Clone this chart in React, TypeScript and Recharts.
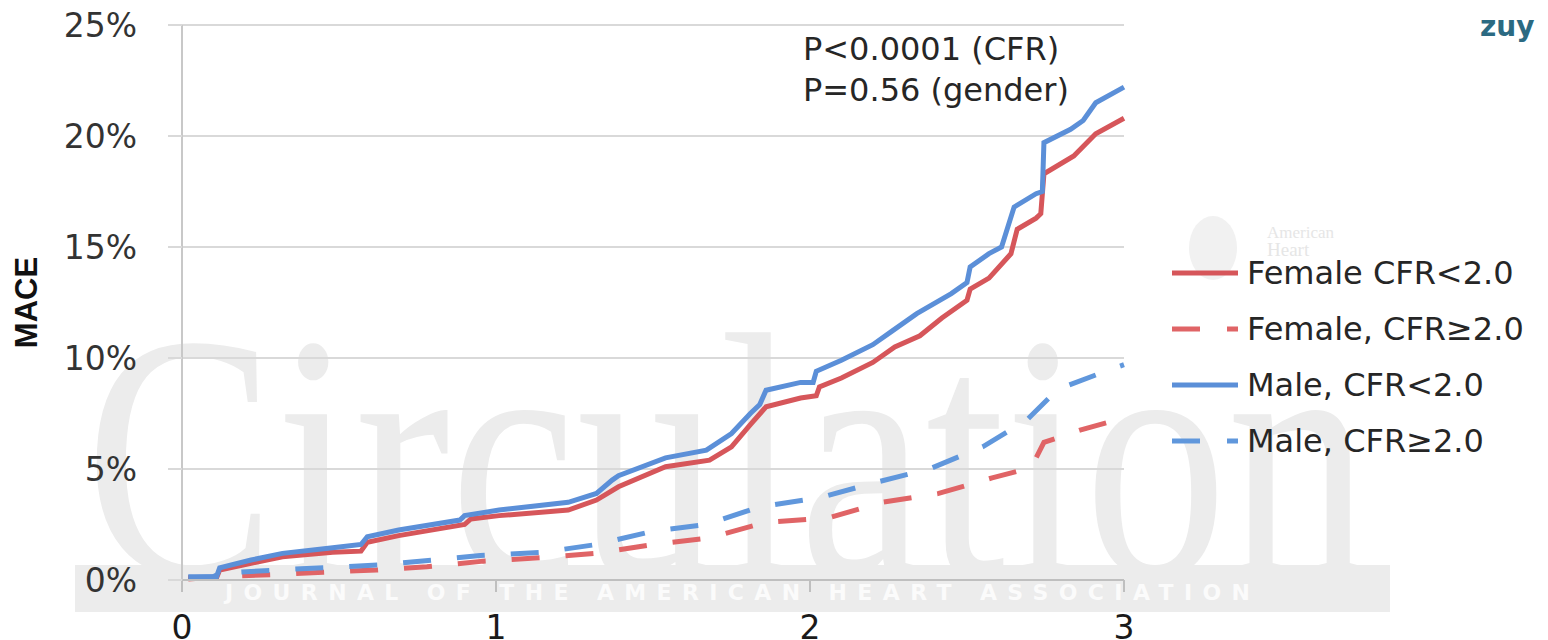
import { CartesianGrid, Line, LineChart, XAxis, YAxis } from "recharts";

// years of follow-up vs cumulative MACE (%)
const femaleLow: [number, number][] = [
  [0.02, 0.1], [0.11, 0.1], [0.12, 0.45], [0.22, 0.75], [0.32, 1.05], [0.48, 1.25], [0.57, 1.3],
  [0.59, 1.7], [0.69, 2.0], [0.9, 2.5], [0.92, 2.75], [1.01, 2.9], [1.23, 3.15], [1.32, 3.6],
  [1.39, 4.2], [1.54, 5.1], [1.68, 5.4], [1.75, 6.0], [1.81, 7.0], [1.86, 7.8], [1.97, 8.2],
  [2.02, 8.3], [2.03, 8.7], [2.1, 9.1], [2.2, 9.8], [2.27, 10.5], [2.35, 11.0], [2.42, 11.8],
  [2.5, 12.6], [2.51, 13.1], [2.57, 13.6], [2.64, 14.7], [2.66, 15.8], [2.72, 16.3], [2.735, 16.5],
  [2.745, 18.3], [2.84, 19.1], [2.91, 20.1], [3.0, 20.8],
];
const maleLow: [number, number][] = [
  [0.02, 0.15], [0.11, 0.15], [0.12, 0.55], [0.22, 0.9], [0.32, 1.2], [0.48, 1.45], [0.57, 1.6],
  [0.59, 1.95], [0.69, 2.25], [0.885, 2.7], [0.9, 2.9], [1.01, 3.15], [1.23, 3.5], [1.32, 3.9],
  [1.37, 4.5], [1.39, 4.7], [1.54, 5.5], [1.67, 5.85], [1.75, 6.6], [1.81, 7.5], [1.84, 7.9],
  [1.86, 8.55], [1.97, 8.9], [2.01, 8.9], [2.02, 9.4], [2.1, 9.9], [2.2, 10.6], [2.26, 11.2],
  [2.34, 12.0], [2.45, 12.9], [2.5, 13.4], [2.51, 14.1], [2.57, 14.7], [2.61, 15.0], [2.65, 16.8],
  [2.72, 17.4], [2.74, 17.5], [2.745, 19.7], [2.83, 20.3], [2.87, 20.7], [2.91, 21.5], [3.0, 22.2],
];
const femaleHigh: [number, number][] = [
  [0.02, 0.05], [0.12, 0.15], [0.3, 0.25], [0.45, 0.35], [0.62, 0.45], [0.78, 0.6], [0.96, 0.85],
  [1.14, 1.0], [1.32, 1.2], [1.5, 1.6], [1.68, 1.9], [1.86, 2.6], [2.06, 2.8], [2.23, 3.5],
  [2.41, 3.9], [2.58, 4.6], [2.69, 5.0], [2.72, 5.5], [2.745, 6.2], [2.86, 6.75], [3.0, 7.3],
];
const maleHigh: [number, number][] = [
  [0.02, 0.1], [0.1, 0.15], [0.12, 0.3], [0.3, 0.45], [0.45, 0.55], [0.65, 0.7], [0.8, 0.9],
  [0.95, 1.1], [1.15, 1.25], [1.32, 1.6], [1.5, 2.2], [1.67, 2.5], [1.84, 3.3], [2.03, 3.7],
  [2.21, 4.4], [2.38, 5.0], [2.55, 6.0], [2.69, 7.2], [2.79, 8.6], [2.96, 9.5], [3.0, 9.7],
];

const xTicks = [0, 1, 2, 3];
const yTicks = [0, 5, 10, 15, 20, 25];
const pValues = ["P<0.0001 (CFR)", "P=0.56 (gender)"];

const RED = "#d6565a";
const BLUE = "#5b8fd8";

const series = [
  { key: "femaleLow", name: "Female CFR<2.0", points: femaleLow, color: RED, dash: undefined },
  { key: "femaleHigh", name: "Female, CFR≥2.0", points: femaleHigh, color: "#e06466", dash: "28 26" },
  { key: "maleLow", name: "Male, CFR<2.0", points: maleLow, color: BLUE, dash: undefined },
  { key: "maleHigh", name: "Male, CFR≥2.0", points: maleHigh, color: "#6097dc", dash: "28 26" },
];

const drawOrder = ["femaleHigh", "maleHigh", "femaleLow", "maleLow"];
const FONT = "'DejaVu Sans', sans-serif";

function toRows(points: [number, number][]) {
  return points.map(([t, v]) => ({ t, v }));
}

function LegendBox() {
  return (
    <div style={{ position: "absolute", left: 1172, top: 245, fontFamily: FONT, fontSize: 32, color: "#262626" }}>
      {series.map((s) => (
        <div key={s.key} style={{ height: 56, display: "flex", alignItems: "center" }}>
          <svg width={66} height={10} style={{ marginRight: 9 }}>
            <line x1={0} y1={5} x2={66} y2={5} stroke={s.color} strokeWidth={5} strokeDasharray={s.dash ? "28 27" : undefined} />
          </svg>
          <span style={{ whiteSpace: "nowrap" }}>{s.name}</span>
        </div>
      ))}
    </div>
  );
}

function Backdrop() {
  return (
    <svg width={1548} height={640} style={{ position: "absolute", left: 0, top: 0 }}>
      <rect x={0} y={0} width={1548} height={640} fill="#ffffff" />
      <text x={85} y={575} fontFamily="'Liberation Serif', serif" fontSize={350} fill="#ececec" textLength={1285} lengthAdjust="spacingAndGlyphs">
        Circulation
      </text>
      <rect x={75} y={565} width={1315} height={47} fill="#ececec" />
      <text x={225} y={600} fontFamily={FONT} fontWeight="bold" fontSize={22} fill="#fbfbfb" textLength={1025} lengthAdjust="spacing">
        JOURNAL OF THE AMERICAN HEART ASSOCIATION
      </text>
      <ellipse cx={1213} cy={248} rx={24} ry={32} fill="#f1f1f1" />
      <text x={1267} y={238} fontFamily="'Liberation Serif', serif" fontSize={17} fill="#e6e6e6">American</text>
      <text x={1267} y={256} fontFamily="'Liberation Serif', serif" fontSize={19} fill="#e6e6e6">Heart</text>
      <text x={1480} y={36} fontFamily={FONT} fontWeight="bold" fontSize={28} fill="#2b6a82">zuy</text>
    </svg>
  );
}

export default function App() {
  const byKey = Object.fromEntries(series.map((s) => [s.key, s]));
  return (
    <div style={{ position: "absolute", left: 0, top: 0, width: 1548, height: 640, overflow: "hidden" }}>
      <Backdrop />
      <div style={{ position: "absolute", left: 0, top: 0 }}>
        <LineChart width={1548} height={640} margin={{ top: 25, right: 424, bottom: 0, left: 0 }} style={{ fontFamily: FONT }}>
          <CartesianGrid vertical={false} stroke="#d9d9d9" strokeWidth={2} />
          <XAxis
            dataKey="t"
            type="number"
            domain={[0, 3]}
            ticks={xTicks}
            height={60}
            axisLine={{ stroke: "#bfbfbf", strokeWidth: 2 }}
            tickLine={{ stroke: "#bfbfbf", strokeWidth: 2 }}
            tickSize={12}
            tickMargin={24}
            tick={{ fontSize: 33, fill: "#1a1a1a", fontFamily: FONT }}
            allowDuplicatedCategory={false}
          />
          <YAxis
            type="number"
            domain={[0, 25]}
            ticks={yTicks}
            width={182}
            tickFormatter={(v) => `${v}%`}
            axisLine={{ stroke: "#c8c8c8", strokeWidth: 2 }}
            tickLine={{ stroke: "#d9d9d9", strokeWidth: 2 }}
            tickSize={14}
            tickMargin={31}
            tick={{ fontSize: 33, fill: "#333333", fontFamily: FONT }}
            label={{ value: "MACE", angle: -90, position: "insideLeft", offset: 26, style: { fontFamily: "'Liberation Sans', sans-serif", fontWeight: "bold", fontSize: 31, fill: "#111", textAnchor: "middle" } }}
          />
          {drawOrder.map((k) => {
            const s = byKey[k];
            return (
              <Line
                key={s.key}
                data={toRows(s.points)}
                dataKey="v"
                name={s.name}
                type="linear"
                stroke={s.color}
                strokeWidth={5}
                strokeDasharray={s.dash}
                dot={false}
                activeDot={false}
                isAnimationActive={false}
              />
            );
          })}
        </LineChart>
      </div>
      <LegendBox />
      <svg width={1548} height={640} style={{ position: "absolute", left: 0, top: 0, pointerEvents: "none" }}>
        {pValues.map((p, i) => (
          <text key={p} x={803} y={60 + i * 41} fontFamily={FONT} fontSize={32} fill="#262626">{p}</text>
        ))}
      </svg>
    </div>
  );
}
